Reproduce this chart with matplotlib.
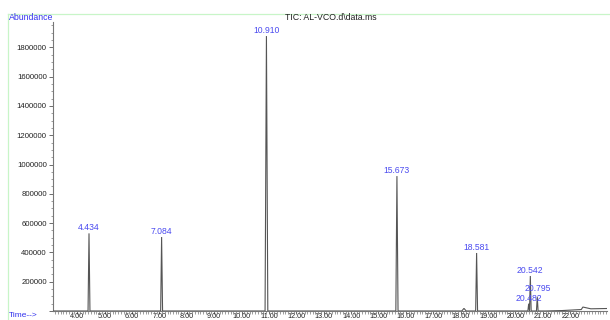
import matplotlib
matplotlib.use("Agg")
import matplotlib.pyplot as plt
from matplotlib.ticker import MultipleLocator, FixedLocator, FixedFormatter
from matplotlib.lines import Line2D

plt.rcParams['font.family'] = ['Liberation Sans', 'DejaVu Sans']

# ---- data ----
peak_rt = [4.434, 7.084, 10.910, 15.673, 18.581, 20.482, 20.542, 20.795]
peak_height = [530000, 505000, 1877000, 921000, 396000, 50000, 239000, 96000]
peak_width = [0.035, 0.035, 0.05, 0.04, 0.035, 0.03, 0.03, 0.03]
peak_labels = ["4.434", "7.084", "10.910", "15.673", "18.581", "20.482", "20.542", "20.795"]
label_dy = [0, 0, 0, 0, 0, 0, 0, 18000]

bump_rt = [18.12]
bump_height = [18000]
bump_width = [0.08]

tail_t = [21.1, 21.7, 22.4, 22.46, 22.75, 23.34]
tail_y = [0, 3000, 10000, 27000, 15000, 17000]

red_start = [4.40, 7.05, 10.87, 15.64, 18.55, 20.40, 20.56, 20.77]
red_end = [5.20, 7.65, 11.90, 16.60, 19.30, 20.48, 20.76, 21.00]

x_major = list(range(4, 23))
x_labels = [f"{v:.2f}" for v in x_major]
y_major = [0, 200000, 400000, 600000, 800000, 1000000, 1200000, 1400000, 1600000, 1800000]
y_labels = [""] + [str(v) for v in y_major[1:]]

# ---- build trace ----
events = []
for rt, h, w in zip(peak_rt, peak_height, peak_width):
    events.append((rt, h, w))
for rt, h, w in zip(bump_rt, bump_height, bump_width):
    events.append((rt, h, w))
events.sort()
tx = [3.12]
ty = [0]
for rt, h, w in events:
    tx += [rt - w, rt, rt + w]
    ty += [0, h, 0]
tx += tail_t
ty += tail_y

W, H = 610, 320
fig = plt.figure(figsize=(W / 100, H / 100), dpi=100)
ax = fig.add_axes([53 / W, (H - 311) / H, (607 - 53) / W, (311 - 22) / H])
ax.set_xlim(3.12, 23.34)
ax.set_ylim(0, 1.973e6)

ax.plot(tx, ty, color="#555555", lw=0.8, solid_joinstyle="miter", zorder=3)
for s, e in zip(red_start, red_end):
    ax.plot([s, e], [2500, 2500], color="#e03030", lw=0.7, zorder=2)

blue = "#4a4af0"
for rt, h, lab, dy in zip(peak_rt, peak_height, peak_labels, label_dy):
    ax.text(rt, h + 8000 + dy, lab, ha="center", va="bottom", fontsize=6.2,
            color=blue, zorder=4)

for s in ["top", "right"]:
    ax.spines[s].set_visible(False)
for s in ["left", "bottom"]:
    ax.spines[s].set_color("#777777")
    ax.spines[s].set_linewidth(0.8)

ax.xaxis.set_major_locator(FixedLocator(x_major))
ax.xaxis.set_major_formatter(FixedFormatter(x_labels))
ax.xaxis.set_minor_locator(MultipleLocator(0.1))
ax.yaxis.set_major_locator(FixedLocator(y_major))
ax.yaxis.set_major_formatter(FixedFormatter(y_labels))
ax.yaxis.set_minor_locator(MultipleLocator(50000))
ax.tick_params(axis="both", which="major", length=3, width=0.6, color="#555555",
               labelsize=5.6, labelcolor="#222222", pad=1.5)
ax.tick_params(axis="x", which="major", length=2.5, pad=-0.8, labelsize=5.2)
ax.tick_params(axis="both", which="minor", length=1.8, width=0.5, color="#777777")
ax.set_facecolor("none")

# outer frame (light green)
fig.add_artist(Line2D([8 / W, 1], [(H - 14) / H] * 2, transform=fig.transFigure,
                      color="#c8f5c8", lw=0.9))
fig.add_artist(Line2D([8 / W] * 2, [0, (H - 14) / H], transform=fig.transFigure,
                      color="#c8f5c8", lw=0.9))

fig.text(331 / W, (H - 17) / H, "TIC: AL-VCO.d\\data.ms", ha="center", va="center",
         fontsize=6.3, color="#222222")
fig.text(9 / W, (H - 17) / H, "Abundance", ha="left", va="center",
         fontsize=6.3, color="#3333ee")
fig.text(9 / W, 1 / H, "Time-->", ha="left", va="bottom",
         fontsize=6.0, color="#3333ee")

fig.savefig("out.png", dpi=100)
